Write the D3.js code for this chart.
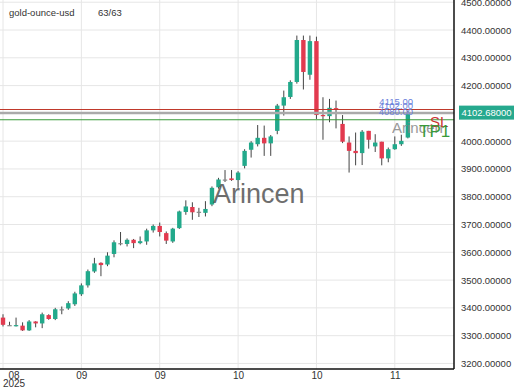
<!DOCTYPE html>
<html><head><meta charset="utf-8">
<script src="https://cdn.jsdelivr.net/npm/d3@7"></script>
<style>
html,body{margin:0;padding:0;background:#fff;}
svg{display:block;font-family:"Liberation Sans",Arial,sans-serif;}
</style></head>
<body>
<svg id="c" width="520" height="390"></svg>
<script>
// ---- data ----
const opens  = [3365,3338,3337,3336,3319,3351,3344,3374,3360,3395,3398,3413,3449,3481,3531,3562,3556,3594,3633,3630,3645,3633,3639,3679,3695,3669,3639,3687,3745,3763,3746,3742,3772,3834,3862,3866,3860,3911,3969,3989,4012,3992,4037,4128,4159,4213,4364,4239,4360,4094,4090,4119,4062,3995,3965,3957,4037,3981,3998,3938,3971,3989,4013];
const highs  = [3377,3350,3365,3348,3356,3352,3383,3377,3400,3405,3424,3458,3488,3538,3580,3564,3600,3643,3673,3650,3648,3657,3685,3700,3707,3675,3688,3750,3787,3780,3760,3784,3837,3868,3896,3896,3892,3971,4000,4058,4056,4022,4134,4182,4219,4380,4380,4380,4376,4158,4152,4146,4094,4017,4031,4040,4037,4025,3998,3977,4017,4023,4110];
const lows   = [3333,3336,3333,3317,3317,3330,3327,3357,3356,3377,3393,3407,3443,3473,3526,3514,3550,3582,3625,3621,3615,3629,3627,3671,3657,3630,3634,3684,3735,3717,3727,3729,3766,3829,3853,3857,3832,3902,3941,3981,3947,3947,4025,4092,4152,4207,4186,4221,4080,4005,4068,4046,3993,3887,3913,3914,3973,3961,3913,3924,3969,3983,4010];
const closes = [3339,3338,3338,3319,3351,3344,3377,3360,3395,3395,3417,3452,3481,3532,3560,3554,3588,3636,3633,3645,3633,3640,3679,3695,3673,3642,3685,3747,3765,3744,3746,3756,3832,3862,3862,3860,3887,3965,3995,4012,3992,4017,4128,4158,4213,4364,4249,4360,4094,4090,4120,4114,3998,3965,3957,4034,4005,3995,3938,3971,3989,4001,4102.68];
const tickIdx    = [0,12,24,36,48,60];
const tickLabels = ["08","09","09","10","10","11"];
const yearLabel  = "2025";
const yTicks     = [3200,3300,3400,3500,3600,3700,3800,3900,4000,4100,4200,4300,4400,4500];
const levelNames  = ["SL","Entry","TP1"];
const levelValues = [4114,4101,4077];
const levelLabels = ["4115.00","4102.00","4080.00"];
const lastPrice = 4102.68;
const symbol = "gold-ounce-usd";
const counter = "63/63";
const watermark = "Arincen";

// ---- chart ----
const svg = d3.select("#c");
const W = 454, H = 369;
const x = d3.scaleLinear().domain([0, opens.length-1]).range([3, 3+6.53*(opens.length-1)]);
const y = d3.scaleLinear().domain([3180, 4508]).range([H, 0]);
const GREEN="#22a98b", RED="#e23a4f", GREY="#888";

const plot = svg.append("g");
plot.append("defs").append("clipPath").attr("id","clp").append("rect").attr("x",0).attr("y",0).attr("width",W).attr("height",H);

// grid
plot.append("g").selectAll("line").data(yTicks).join("line")
  .attr("x1",0).attr("x2",W).attr("y1",d=>y(d)).attr("y2",d=>y(d))
  .attr("stroke","#e6e6e6").attr("stroke-width",1);
plot.append("g").selectAll("line").data(tickIdx).join("line")
  .attr("x1",d=>x(d)).attr("x2",d=>x(d)).attr("y1",0).attr("y2",H)
  .attr("stroke","#e6e6e6").attr("stroke-width",1);

// candles
const idx = d3.range(opens.length);
const cg = plot.append("g").attr("clip-path","url(#clp)");
const colorOf = i => closes[i]>opens[i]?GREEN:(closes[i]<opens[i]?RED:GREY);
cg.selectAll("line.w").data(idx).join("line").attr("class","w")
  .attr("x1",i=>x(i)).attr("x2",i=>x(i))
  .attr("y1",i=>y(highs[i])).attr("y2",i=>y(lows[i]))
  .attr("stroke","#444").attr("stroke-width",1);
cg.selectAll("rect.b").data(idx).join("rect").attr("class","b")
  .attr("x",i=>x(i)-2.2).attr("width",4.4)
  .attr("y",i=>y(Math.max(opens[i],closes[i])))
  .attr("height",i=>Math.max(1.2, Math.abs(y(opens[i])-y(closes[i]))))
  .attr("fill",colorOf);

// level lines
const levelColors = ["#c0392b","#aaaaaa","#3a9a3a"];
const levelWidths = [1.2,2.5,1.2];
plot.append("g").selectAll("line").data(levelValues).join("line")
  .attr("x1",0).attr("x2",W).attr("y1",d=>y(d)).attr("y2",d=>y(d))
  .attr("stroke",(d,i)=>levelColors[i]).attr("stroke-width",(d,i)=>levelWidths[i]);
plot.append("g").selectAll("text").data(levelValues).join("text")
  .attr("x",413).attr("y",d=>y(d)-4.5).attr("text-anchor","end")
  .attr("font-size",9.5).attr("fill","#6a7fdb")
  .text((d,i)=>levelLabels[i]);

// watermarks
plot.append("text").attr("x",213).attr("y",203).attr("font-size",27)
  .attr("fill","#555").attr("opacity",0.85).text(watermark);
plot.append("g").attr("clip-path","url(#clp)").append("text")
  .attr("x",392).attr("y",133).attr("font-size",15)
  .attr("fill","#888").attr("opacity",0.85).text(watermark);
plot.append("text").attr("x",430).attr("y",127).attr("font-size",15)
  .attr("fill","#cc3333").text(levelNames[0]);
plot.append("text").attr("x",419).attr("y",137).attr("font-size",17)
  .attr("fill","#3a9a3a").text(levelNames[2]);

// header
svg.append("text").attr("x",9).attr("y",16).attr("font-size",9.5).attr("fill","#333").text(symbol);
svg.append("text").attr("x",98).attr("y",16).attr("font-size",9.5).attr("fill","#333").text(counter);

// axes
const yAxis = d3.axisRight(y).tickValues(yTicks).tickSize(0).tickPadding(7)
  .tickFormat(d=>d.toFixed(5));
const ya = svg.append("g").attr("transform",`translate(${W},0)`).call(yAxis);
ya.select(".domain").remove();
ya.selectAll("text").attr("font-size",9.5).attr("fill","#333").attr("font-family","Liberation Sans, Arial, sans-serif");

const xAxis = d3.axisBottom(x).tickValues(tickIdx).tickSize(0).tickPadding(3)
  .tickFormat((d,i)=>tickLabels[i]);
const xa = svg.append("g").attr("transform",`translate(0,${H})`).call(xAxis);
xa.select(".domain").remove();
xa.selectAll("text").attr("font-size",10).attr("fill","#333").attr("font-family","Liberation Sans, Arial, sans-serif");
xa.selectAll(".tick").filter((d,i)=>i===0).attr("transform","translate(14,0)")
  .append("text").attr("y",11).attr("dy","0.71em").attr("text-anchor","middle")
  .attr("font-size",10).attr("fill","#333").attr("font-family","Liberation Sans, Arial, sans-serif").text(yearLabel);

// frame
svg.append("line").attr("x1",0).attr("x2",W).attr("y1",H).attr("y2",H).attr("stroke","#111").attr("stroke-width",1.5);
svg.append("line").attr("x1",W).attr("x2",W).attr("y1",0).attr("y2",H).attr("stroke","#111").attr("stroke-width",1.5);

// last price tag
const tag = svg.append("g").attr("transform",`translate(459,${y(lastPrice)})`);
tag.append("rect").attr("x",0).attr("y",-7).attr("width",55).attr("height",14).attr("fill","#26a98e");
tag.append("text").attr("x",27.5).attr("y",3.5).attr("text-anchor","middle").attr("font-size",9.5).attr("fill","#fff").text(lastPrice.toFixed(5));
</script>
</body></html>
